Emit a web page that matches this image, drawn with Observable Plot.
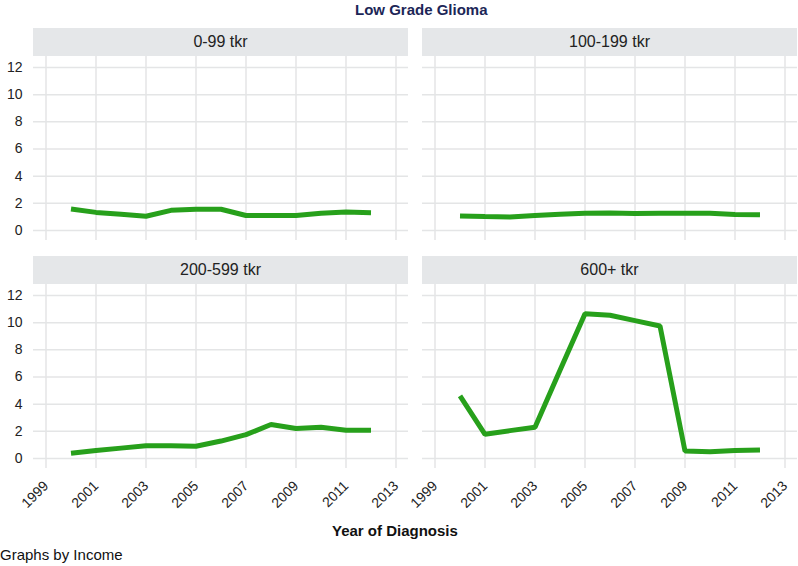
<!DOCTYPE html>
<html>
<head>
<meta charset="utf-8">
<script src="https://cdn.jsdelivr.net/npm/d3@7"></script>
<script src="https://cdn.jsdelivr.net/npm/@observablehq/plot@0.6"></script>
<style>
  html, body { margin: 0; padding: 0; background: #fff; }
  #chart { position: relative; width: 798px; height: 566px; font-family: "Liberation Sans", Arial, Helvetica, sans-serif; overflow: hidden; }
  .abs { position: absolute; }
  .title { font-weight: bold; font-size: 15px; color: #1c2657; white-space: nowrap; }
  .strip { background: #e5e7e9; font-size: 16px; color: #222; display: flex; align-items: center; justify-content: center; }
  .xlabel { font-weight: bold; font-size: 15px; color: #111; white-space: nowrap; }
  .caption { font-size: 15px; color: #111; white-space: nowrap; }
  #chart svg { overflow: visible; }
  #chart svg text { font-size: 14px !important; font-family: "Liberation Sans", Arial, Helvetica, sans-serif !important; fill: #222; }
</style>
</head>
<body>
<div id="chart"></div>
<script>
// ---- Data ----
const years = [2000, 2001, 2002, 2003, 2004, 2005, 2006, 2007, 2008, 2009, 2010, 2011, 2012];
const income0_99 = [1.58, 1.33, 1.2, 1.05, 1.48, 1.56, 1.56, 1.1, 1.1, 1.1, 1.27, 1.35, 1.3];
const income100_199 = [1.06, 1.02, 0.99, 1.1, 1.2, 1.26, 1.29, 1.24, 1.27, 1.27, 1.27, 1.18, 1.15];
const income200_599 = [0.38, 0.58, 0.76, 0.93, 0.93, 0.9, 1.28, 1.75, 2.5, 2.2, 2.3, 2.08, 2.08];
const income600 = [4.6, 1.78, 2.05, 2.3, 6.5, 10.65, 10.55, 10.15, 9.75, 0.54, 0.5, 0.58, 0.63];
const panelLabels = ["0-99 tkr", "100-199 tkr", "200-599 tkr", "600+ tkr"];
const xTicks = [1999, 2001, 2003, 2005, 2007, 2009, 2011, 2013];
const yTicks = [0, 2, 4, 6, 8, 10, 12];
const titleText = "Low Grade Glioma";
const xLabelText = "Year of Diagnosis";
const captionText = "Graphs by Income";

const series = [income0_99, income100_199, income200_599, income600];
const green = "#27a01b";
const gridColor = "#e4e5e6";
const fontFamily = '"Liberation Sans", Arial, Helvetica, sans-serif';

const chart = document.getElementById("chart");

function addDiv(cls, text, style) {
  const d = document.createElement("div");
  d.className = "abs " + cls;
  d.textContent = text;
  Object.assign(d.style, style);
  chart.appendChild(d);
  return d;
}

addDiv("title", titleText, { left: "355px", top: "1px" });

const panelW = 375, panelH = 184;
const layout = [
  { left: 33, top: 56, showY: true, showX: false },
  { left: 422, top: 56, showY: false, showX: false },
  { left: 33, top: 284, showY: true, showX: true },
  { left: 422, top: 284, showY: false, showX: true }
];

layout.forEach((p, i) => {
  addDiv("strip", panelLabels[i], {
    left: p.left + "px", top: (p.top - 28) + "px", width: panelW + "px", height: "28px"
  });
  const data = years.map((y, j) => ({ year: y, value: series[i][j] }));
  const mL = p.showY ? 33 : 0;
  const mB = p.showX ? 50 : 0;
  const marks = [
    Plot.gridX(xTicks, { stroke: gridColor, strokeWidth: 1.5, strokeOpacity: 1 }),
    Plot.gridY(yTicks, { stroke: gridColor, strokeWidth: 1.5, strokeOpacity: 1 })
  ];
  if (p.showY) marks.push(Plot.axisY(yTicks, { tickSize: 0, tickPadding: 11, label: null }));
  if (p.showX) marks.push(Plot.axisX(xTicks, { tickSize: 0, tickPadding: 15, tickRotate: -45, label: null, tickFormat: d => String(d) }));
  marks.push(Plot.line(data, { x: "year", y: "value", stroke: green, strokeWidth: 5, strokeLinejoin: "miter", strokeLinecap: "butt" }));
  const svg = Plot.plot({
    width: panelW + mL,
    height: panelH + mB,
    marginLeft: mL, marginRight: 0, marginTop: 0, marginBottom: mB,
    style: { fontFamily, fontSize: "14px", color: "#222", background: "transparent", overflow: "visible" },
    x: { domain: [1998.5, 2013.5], axis: p.showX ? undefined : null },
    y: { domain: [-0.74, 12.81], axis: p.showY ? undefined : null },
    marks
  });
  svg.style.position = "absolute";
  svg.style.left = (p.left - mL) + "px";
  svg.style.top = p.top + "px";
  chart.appendChild(svg);
});

addDiv("xlabel", xLabelText, { left: "332px", top: "522px" });
addDiv("caption", captionText, { left: "0px", top: "546px" });
</script>
</body>
</html>
